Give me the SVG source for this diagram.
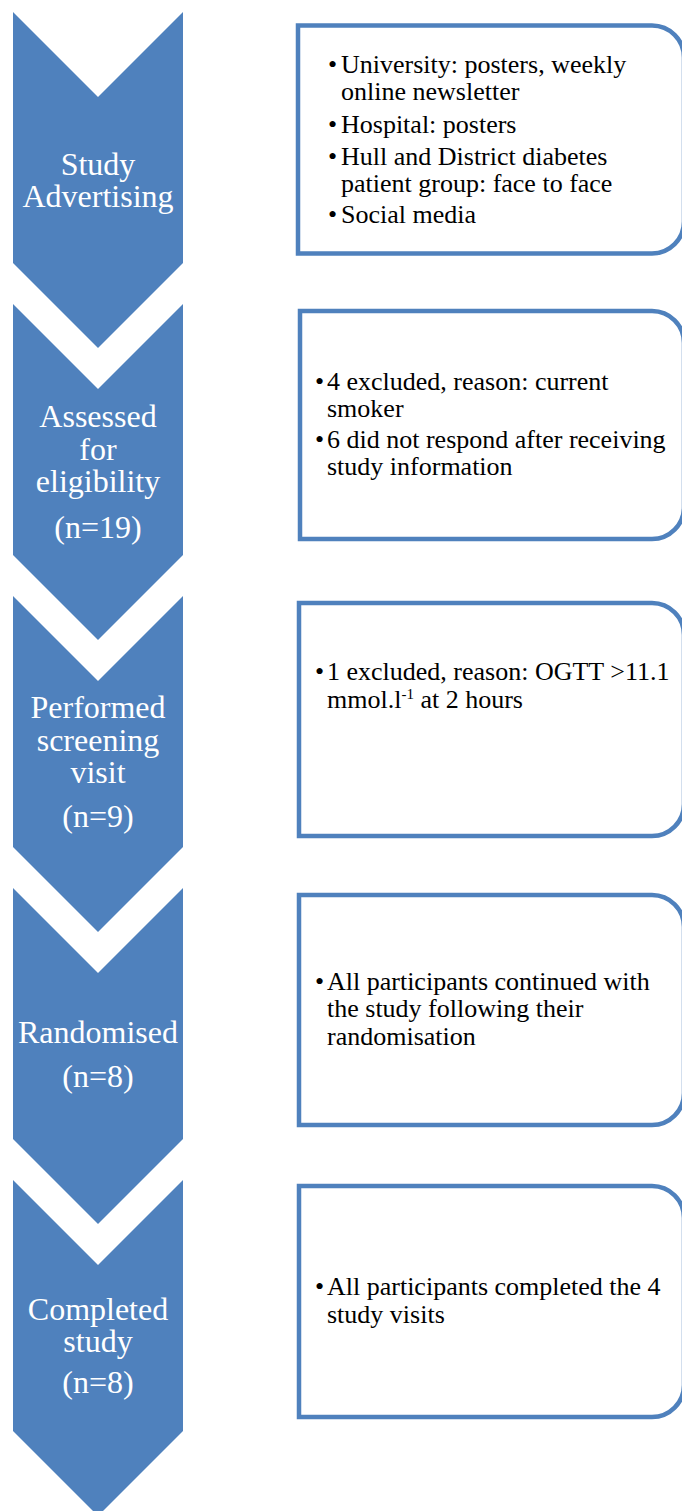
<svg xmlns="http://www.w3.org/2000/svg" width="682" height="1511" viewBox="0 0 682 1511">
<style>
.chev{fill:#4F81BD;}
.box{fill:#FFFFFF;stroke:#4F81BD;stroke-width:4.5;}
.lbl{font-family:"Liberation Serif","Times New Roman",serif;font-size:32px;fill:#FFFFFF;text-anchor:middle;}
.txt{font-family:"Liberation Serif","Times New Roman",serif;font-size:26px;fill:#000000;}
.sup{font-size:15px;}
</style>
<rect width="682" height="1511" fill="#FFFFFF"/>
<g id="connectors"></g>
<g id="step1">
<polygon class="chev" points="13,12 98,97 183,12 183,263 98,348 13,263"/>
<text class="lbl" x="98" y="175">Study</text>
<text class="lbl" x="98" y="207">Advertising</text>
</g>
<g id="step2">
<polygon class="chev" points="13,304 98,389 183,304 183,555 98,640 13,555"/>
<text class="lbl" x="98" y="427">Assessed</text>
<text class="lbl" x="98" y="460">for</text>
<text class="lbl" x="98" y="492">eligibility</text>
<text class="lbl" x="98" y="538">(n=19)</text>
</g>
<g id="step3">
<polygon class="chev" points="13,596 98,681 183,596 183,847 98,932 13,847"/>
<text class="lbl" x="98" y="718">Performed</text>
<text class="lbl" x="98" y="751">screening</text>
<text class="lbl" x="98" y="783">visit</text>
<text class="lbl" x="98" y="827">(n=9)</text>
</g>
<g id="step4">
<polygon class="chev" points="13,888 98,973 183,888 183,1139 98,1224 13,1139"/>
<text class="lbl" x="98" y="1043">Randomised</text>
<text class="lbl" x="98" y="1087">(n=8)</text>
</g>
<g id="step5">
<polygon class="chev" points="13,1180 98,1265 183,1180 183,1431 98,1516 13,1431"/>
<text class="lbl" x="98" y="1320">Completed</text>
<text class="lbl" x="98" y="1352">study</text>
<text class="lbl" x="98" y="1393">(n=8)</text>
</g>
<g id="box1">
<path class="box" d="M298,25.5 H652 A32,32 0 0 1 684,57.5 V221.5 A32,32 0 0 1 652,253.5 H298 Z"/>
<text class="txt" x="328" y="73">•</text>
<text class="txt" x="341" y="73">University: posters, weekly</text>
<text class="txt" x="341" y="100">online newsletter</text>
<text class="txt" x="328" y="133">•</text>
<text class="txt" x="341" y="133">Hospital: posters</text>
<text class="txt" x="328" y="165">•</text>
<text class="txt" x="341" y="165">Hull and District diabetes</text>
<text class="txt" x="341" y="192">patient group: face to face</text>
<text class="txt" x="328" y="223">•</text>
<text class="txt" x="341" y="223">Social media</text>
</g>
<g id="box2">
<path class="box" d="M300,311 H652 A32,32 0 0 1 684,343 V507 A32,32 0 0 1 652,539 H300 Z"/>
<text class="txt" x="315" y="390">•</text>
<text class="txt" x="327" y="390">4 excluded, reason: current</text>
<text class="txt" x="327" y="417">smoker</text>
<text class="txt" x="315" y="448">•</text>
<text class="txt" x="327" y="448">6 did not respond after receiving</text>
<text class="txt" x="327" y="475">study information</text>
</g>
<g id="box3">
<path class="box" d="M299,603 H652 A32,32 0 0 1 684,635 V804 A32,32 0 0 1 652,836 H299 Z"/>
<text class="txt" x="315" y="680">•</text>
<text class="txt" x="327" y="680">1 excluded, reason: OGTT &gt;11.1</text>
<text class="txt" x="327" y="708">mmol.l<tspan class="sup" dy="-9">-1</tspan><tspan dy="9"> at 2 hours</tspan></text>
</g>
<g id="box4">
<path class="box" d="M299,895 H652 A32,32 0 0 1 684,927 V1093 A32,32 0 0 1 652,1125 H299 Z"/>
<text class="txt" x="315" y="990">•</text>
<text class="txt" x="327" y="990">All participants continued with</text>
<text class="txt" x="327" y="1017">the study following their</text>
<text class="txt" x="327" y="1045">randomisation</text>
</g>
<g id="box5">
<path class="box" d="M299,1186 H652 A32,32 0 0 1 684,1218 V1385 A32,32 0 0 1 652,1417 H299 Z"/>
<text class="txt" x="315" y="1295">•</text>
<text class="txt" x="327" y="1295">All participants completed the 4</text>
<text class="txt" x="327" y="1323">study visits</text>
</g>
</svg>
